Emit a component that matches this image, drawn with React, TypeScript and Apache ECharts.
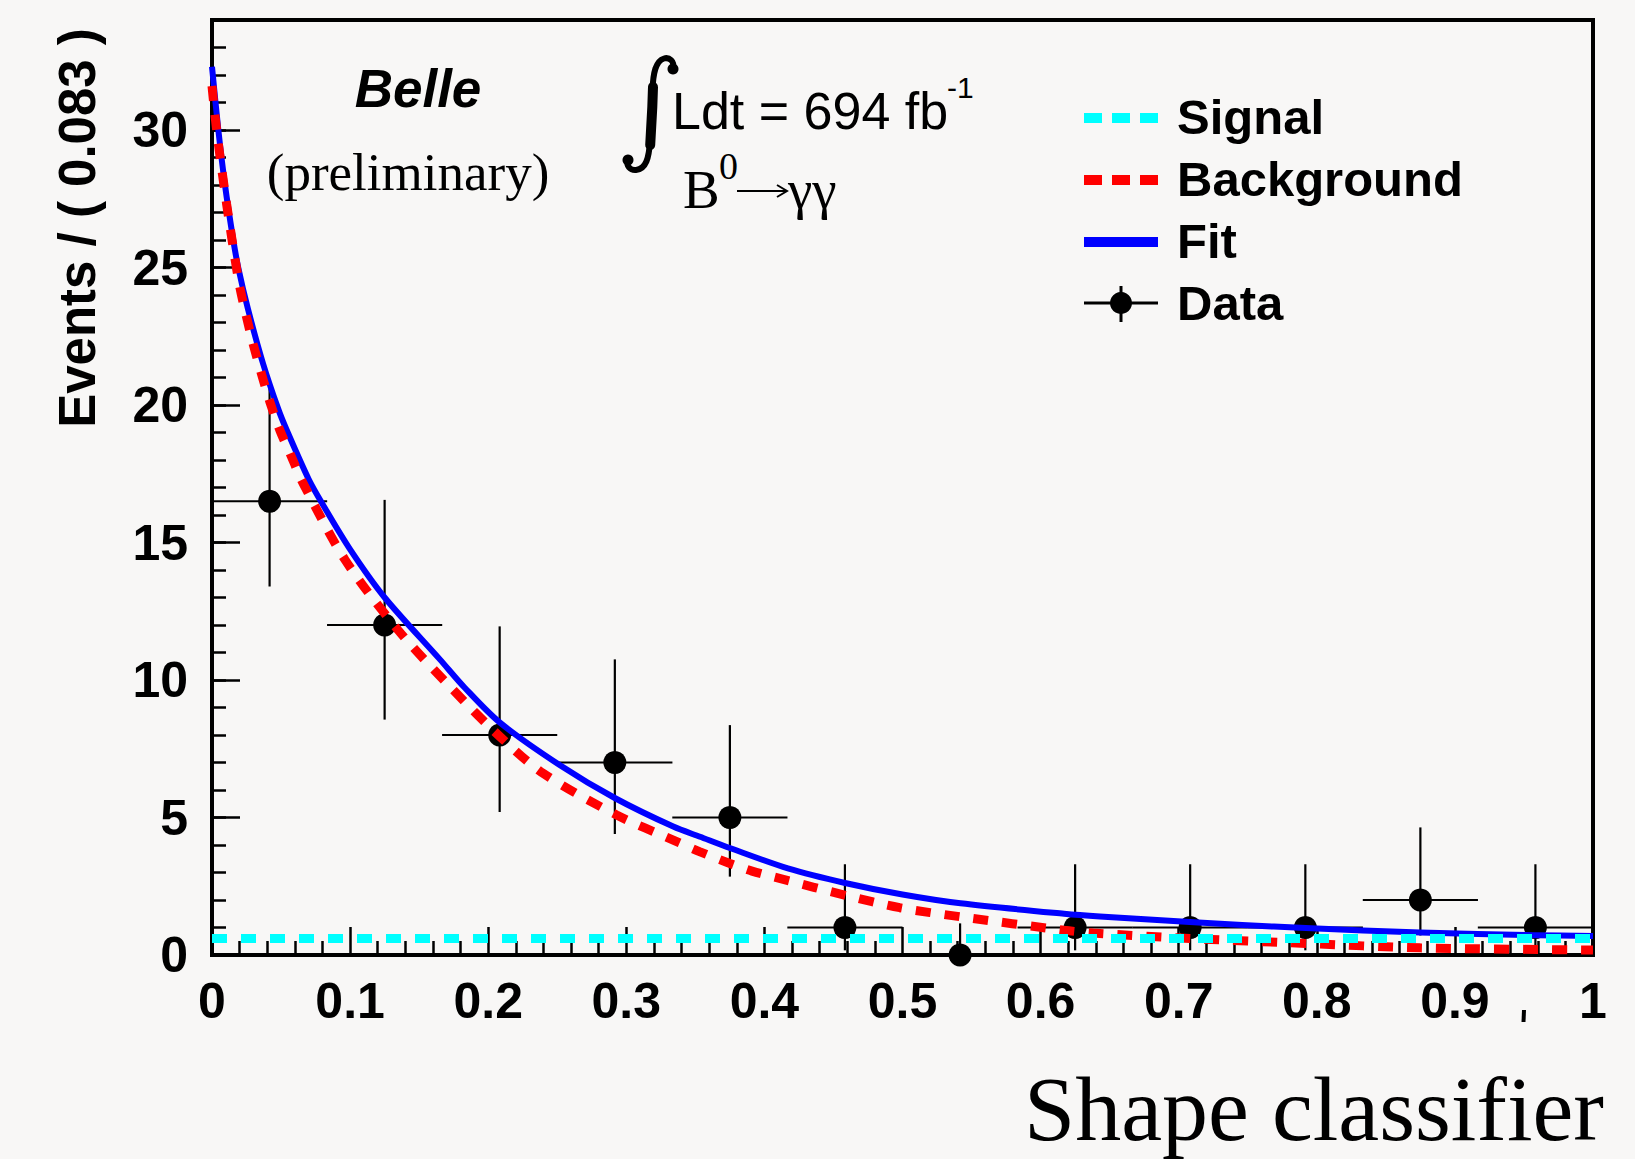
import React, { useEffect, useRef } from "react";
import * as echarts from "echarts";

// ---------- data ----------
const dataX = [0.0417, 0.125, 0.2083, 0.2917, 0.375, 0.4583, 0.5417, 0.625, 0.7083, 0.7917, 0.875, 0.9583];
const dataY = [16.5, 12, 8, 7, 5, 1, 0, 1, 1, 1, 2, 1];
const dataYLow = [13.4, 8.56, 5.2, 4.4, 2.85, 0.17, 0, 0.17, 0.17, 0.17, 0.71, 0.17];
const dataYHigh = [20.7, 16.55, 11.95, 10.75, 8.36, 3.3, 1.15, 3.3, 3.3, 3.3, 4.64, 3.3];
const binHalfWidth = 0.0417;

const fitX = [0, 0.0046, 0.0094, 0.0154, 0.019, 0.026, 0.037, 0.048, 0.054, 0.07, 0.08, 0.1, 0.125, 0.165, 0.183, 0.2085, 0.252, 0.292, 0.334, 0.3534, 0.3755, 0.417, 0.4584, 0.5, 0.542, 0.617, 0.643, 0.708, 0.746, 0.792, 0.875, 0.958, 1];
const fitY = [32.3, 30, 28, 26, 25, 23.5, 21.5, 19.85, 19.1, 17.3, 16.4, 14.75, 13.0, 10.75, 9.72, 8.45, 6.9, 5.7, 4.67, 4.3, 3.88, 3.15, 2.62, 2.2, 1.88, 1.5, 1.4, 1.2, 1.09, 0.98, 0.82, 0.72, 0.69];

const bkgX = [0, 0.002, 0.0046, 0.007, 0.0106, 0.013, 0.0167, 0.0203, 0.025, 0.0299, 0.036, 0.042, 0.049, 0.0577, 0.066, 0.0965, 0.135, 0.1735, 0.2085, 0.24, 0.293, 0.334, 0.353, 0.375, 0.391, 0.4137, 0.458, 0.498, 0.542, 0.617, 0.638, 0.708, 0.792, 0.875, 1];
const bkgY = [31.6, 30.6, 29.5, 28.6, 27.3, 26.5, 25.3, 24.25, 23.2, 22.2, 21.1, 20.1, 19.1, 18.1, 17.15, 14.36, 11.8, 9.7, 7.94, 6.6, 5.09, 4.18, 3.76, 3.33, 3.05, 2.75, 2.18, 1.72, 1.39, 0.9, 0.8, 0.6, 0.42, 0.26, 0.18];

const signalX = [0, 1];
const signalY = [0.6, 0.6];

const legendLabels = ["Signal", "Background", "Fit", "Data"];

// integral sign glyph
const integralPath =
  "M 51 12 C 53 4 47 0 42 1.5 C 34 4 31 15 30.5 34 L 28 84 C 27 101 24 112 14 113 C 8 113.5 4 109 6 103";
echarts.graphic.registerShape("integralSign", echarts.graphic.extendPath(integralPath, {}));
const integralStem = "M 31 30 L 30.3 50 L 28.2 88";
echarts.graphic.registerShape("integralStem", echarts.graphic.extendPath(integralStem, {}));

const SANS = "Liberation Sans";
const SERIF = "Liberation Serif";

export default function App() {
  const ref = useRef<HTMLDivElement>(null);

  useEffect(() => {
    if (!ref.current) return;
    const chart = echarts.init(ref.current, undefined, { renderer: "svg" });

    const tickLabel = {
      color: "#000",
      fontFamily: SANS,
      fontWeight: "bold" as const,
      fontSize: 50,
    };

    const errData = dataX.map((x, i) => [x, dataY[i], dataYLow[i], dataYHigh[i], x - binHalfWidth, x + binHalfWidth]);

    const legendY = [118, 180, 242, 303];
    const legendTextY = [117, 179, 241, 303];
    const lx1 = 1084;
    const lx2 = 1158;

    const option: any = {
      animation: false,
      backgroundColor: "#f8f7f6",
      grid: {
        left: 212,
        top: 20,
        width: 1381,
        height: 935,
        show: true,
        borderColor: "#000",
        borderWidth: 4,
        backgroundColor: "transparent",
      },
      xAxis: {
        type: "value",
        min: 0,
        max: 1,
        interval: 0.1,
        axisLine: { show: true, onZero: false, lineStyle: { color: "#000", width: 4 } },
        axisTick: { show: true, inside: true, length: 28, lineStyle: { color: "#000", width: 2.5 } },
        minorTick: { show: true, splitNumber: 5, length: 14, lineStyle: { color: "#000", width: 2.5 } },
        splitLine: { show: false },
        minorSplitLine: { show: false },
        axisLabel: {
          ...tickLabel,
          margin: 21,
          formatter: (v: number) => (v === 0 ? "0" : Math.abs(v - 1) < 1e-9 ? "1" : v.toFixed(1)),
        },
      },
      yAxis: [
        {
          type: "value",
          min: 0,
          max: 34,
          interval: 5,
          position: "left",
          axisLine: { show: true, onZero: false, lineStyle: { color: "#000", width: 4 } },
          axisTick: { show: true, inside: true, length: 28, lineStyle: { color: "#000", width: 2.5 } },
          splitLine: { show: false },
          axisLabel: { ...tickLabel, margin: 24, showMaxLabel: false },
        },
        {
          type: "value",
          min: 0,
          max: 34,
          interval: 1,
          position: "left",
          axisLine: { show: false },
          axisTick: { show: true, inside: true, length: 14, lineStyle: { color: "#000", width: 2.5 } },
          splitLine: { show: false },
          axisLabel: { show: false },
        },
      ],
      series: [
        {
          type: "custom",
          name: "errors",
          clip: false,
          silent: true,
          z: 2,
          data: errData,
          encode: { x: 0, y: 1 },
          renderItem: (params: any, api: any) => {
            const x = api.value(0);
            const y = api.value(1);
            const lo = api.value(2);
            const hi = api.value(3);
            const xl = api.value(4);
            const xh = api.value(5);
            const pLo = api.coord([x, lo]);
            const pHi = api.coord([x, hi]);
            const pL = api.coord([xl, y]);
            const pR = api.coord([xh, y]);
            const st = { stroke: "#000", lineWidth: 2.2 };
            return {
              type: "group",
              children: [
                { type: "line", shape: { x1: pLo[0], y1: pLo[1], x2: pHi[0], y2: pHi[1] }, style: st },
                { type: "line", shape: { x1: pL[0], y1: pL[1], x2: pR[0], y2: pR[1] }, style: st },
              ],
            };
          },
        },
        {
          type: "scatter",
          name: "Data",
          clip: false,
          silent: true,
          z: 3,
          symbol: "circle",
          symbolSize: 23,
          itemStyle: { color: "#000", opacity: 1 },
          data: dataX.map((x, i) => [x, dataY[i]]),
        },
        {
          type: "line",
          name: "Fit",
          silent: true,
          z: 4,
          symbol: "none",
          smooth: 0.3,
          lineStyle: { color: "#0000ff", width: 6, join: "round" },
          data: fitX.map((x, i) => [x, fitY[i]]),
        },
        {
          type: "line",
          name: "Background",
          silent: true,
          z: 5,
          symbol: "none",
          smooth: 0.3,
          lineStyle: { color: "#ff0000", width: 9, type: [15, 14] },
          data: bkgX.map((x, i) => [x, bkgY[i]]),
        },
        {
          type: "line",
          name: "Signal",
          silent: true,
          z: 6,
          symbol: "none",
          lineStyle: { color: "#00ffff", width: 9, type: [15, 14] },
          data: signalX.map((x, i) => [x, signalY[i]]),
        },
      ],
      graphic: [
        // Y axis title
        {
          type: "text",
          x: 77,
          y: 228,
          rotation: Math.PI / 2,
          style: {
            text: "Events / ( 0.083 )",
            fill: "#000",
            fontFamily: SANS,
            fontWeight: "bold",
            fontSize: 51,
            align: "center",
            verticalAlign: "middle",
          },
        },
        // X axis title
        {
          type: "text",
          x: 1604,
          y: 1109,
          style: {
            text: "Shape classifier",
            fill: "#000",
            fontFamily: SERIF,
            fontSize: 92,
            align: "right",
            verticalAlign: "middle",
          },
        },
        // Belle
        {
          type: "text",
          x: 418,
          y: 88,
          style: {
            text: "Belle",
            fill: "#000",
            fontFamily: SANS,
            fontWeight: "bold",
            fontStyle: "italic",
            fontSize: 53,
            align: "center",
            verticalAlign: "middle",
          },
        },
        {
          type: "text",
          x: 408,
          y: 172,
          style: {
            text: "(preliminary)",
            fill: "#000",
            fontFamily: SERIF,
            fontSize: 53,
            align: "center",
            verticalAlign: "middle",
          },
        },
        // integral sign
        {
          type: "integralSign",
          x: 622,
          y: 57,
          style: { fill: "none", stroke: "#000", lineWidth: 6, lineCap: "round" },
        },
        {
          type: "integralStem",
          x: 622,
          y: 57,
          style: { fill: "none", stroke: "#000", lineWidth: 10, lineCap: "round", lineJoin: "round" },
        },
        { type: "circle", shape: { cx: 673, cy: 69, r: 5.5 }, style: { fill: "#000" } },
        { type: "circle", shape: { cx: 628, cy: 160, r: 5.5 }, style: { fill: "#000" } },
        {
          type: "text",
          x: 672,
          y: 111,
          style: {
            text: "Ldt = 694 fb",
            fill: "#000",
            fontFamily: SANS,
            fontSize: 52,
            align: "left",
            verticalAlign: "middle",
          },
        },
        {
          type: "text",
          x: 947,
          y: 87,
          style: {
            text: "-1",
            fill: "#000",
            fontFamily: SANS,
            fontSize: 30,
            align: "left",
            verticalAlign: "middle",
          },
        },
        {
          type: "text",
          x: 683,
          y: 189,
          style: {
            text: "B",
            fill: "#000",
            fontFamily: SERIF,
            fontSize: 55,
            align: "left",
            verticalAlign: "middle",
          },
        },
        {
          type: "text",
          x: 719,
          y: 166,
          style: {
            text: "0",
            fill: "#000",
            fontFamily: SERIF,
            fontSize: 38,
            align: "left",
            verticalAlign: "middle",
          },
        },
        // arrow
        {
          type: "line",
          shape: { x1: 737, y1: 191, x2: 786, y2: 191 },
          style: { stroke: "#000", lineWidth: 2 },
        },
        {
          type: "polyline",
          shape: { points: [[777, 185], [787, 191], [777, 197]] },
          style: { stroke: "#000", lineWidth: 2, fill: "none" },
        },
        {
          type: "text",
          x: 788,
          y: 189,
          style: {
            text: "\u03b3\u03b3",
            fill: "#000",
            fontFamily: SERIF,
            fontSize: 55,
            align: "left",
            verticalAlign: "middle",
          },
        },
        // legend samples
        {
          type: "line",
          shape: { x1: lx1, y1: legendY[0], x2: lx2, y2: legendY[0] },
          style: { stroke: "#00ffff", lineWidth: 10, lineDash: [18, 10] },
        },
        {
          type: "line",
          shape: { x1: lx1, y1: legendY[1], x2: lx2, y2: legendY[1] },
          style: { stroke: "#ff0000", lineWidth: 10, lineDash: [18, 10] },
        },
        {
          type: "line",
          shape: { x1: lx1, y1: legendY[2], x2: lx2, y2: legendY[2] },
          style: { stroke: "#0000ff", lineWidth: 10 },
        },
        {
          type: "line",
          shape: { x1: lx1, y1: legendY[3], x2: lx2, y2: legendY[3] },
          style: { stroke: "#000", lineWidth: 3 },
        },
        {
          type: "line",
          shape: { x1: 1121, y1: legendY[3] - 17, x2: 1121, y2: legendY[3] + 19 },
          style: { stroke: "#000", lineWidth: 3 },
        },
        { type: "circle", shape: { cx: 1121, cy: legendY[3], r: 11 }, style: { fill: "#000" } },
        ...legendLabels.map((t, i) => ({
          type: "text",
          x: 1177,
          y: legendTextY[i],
          style: {
            text: t,
            fill: "#000",
            fontFamily: SANS,
            fontWeight: "bold",
            fontSize: 49,
            align: "left",
            verticalAlign: "middle",
          },
        })),
        // small stray mark below the axis
        {
          type: "line",
          shape: { x1: 1524, y1: 1010, x2: 1523.5, y2: 1022 },
          style: { stroke: "#000", lineWidth: 4 },
        },
      ],
    };

    chart.setOption(option);
    return () => chart.dispose();
  }, []);

  return (
    <div
      ref={ref}
      style={{ position: "fixed", left: 0, top: 0, width: 1635, height: 1159 }}
    />
  );
}
